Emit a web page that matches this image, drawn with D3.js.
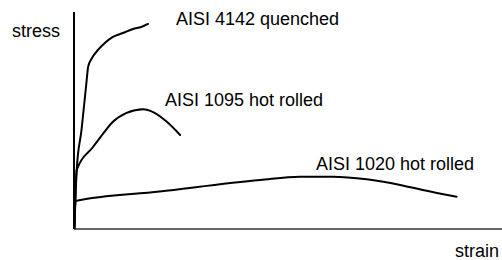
<!DOCTYPE html>
<html>
<head>
<meta charset="utf-8">
<script src="https://cdn.jsdelivr.net/npm/d3@7"></script>
<style>
  body { margin: 0; background: #fff; }
  svg { display: block; }
  .label { font-family: "Liberation Sans", Arial, sans-serif; font-size: 18px; fill: #000; }
  .curve { fill: none; stroke: #000; stroke-width: 2; stroke-linejoin: round; stroke-linecap: round; }
</style>
</head>
<body>
<svg id="chart"></svg>
<script>
// curves (strain and stress in arbitrary 0-100 units)
const strain4142 = [0.1, 0.63, 1.75, 2.97, 3.3, 4.2, 5.6, 7.2, 9.1, 11.4, 13.8, 15.7, 17.3];
const stress4142 = [0.5, 27.2, 45.6, 68.7, 74.7, 78.8, 82.5, 85.7, 88.5, 90.3, 92.2, 93.1, 94.5];

const strain1095 = [0.1, 0.63, 4.5, 6.85, 9.1, 12.3, 16.2, 18.5, 21.7, 24.8];
const stress1095 = [0.5, 27.2, 37.9, 44.1, 49.4, 53.5, 55.2, 53.9, 49.4, 43.3];

const strain1020 = [0.1, 0.35, 20, 43.5, 52.8, 60.5, 68.4, 76.2, 81.5, 89.4];
const stress1020 = [0.5, 12.9, 17.3, 22.6, 24.1, 24.1, 22.9, 20.3, 18.0, 14.9];

const curveNames = ['AISI 4142 quenched', 'AISI 1095 hot rolled', 'AISI 1020 hot rolled'];
const axisNames = ['strain', 'stress'];

const width = 502, height = 260;
const margin = { top: 12, right: 0, bottom: 31, left: 74 };

const svg = d3.select('#chart')
    .attr('width', width)
    .attr('height', height);

// scales
const x = d3.scaleLinear().domain([0, 100]).range([margin.left, width - margin.right]);
const y = d3.scaleLinear().domain([0, 100]).range([height - margin.bottom, margin.top]);

// axes: plain lines, no ticks
svg.append('line')
    .attr('x1', x(0)).attr('x2', x(100))
    .attr('y1', y(0)).attr('y2', y(0))
    .attr('stroke', '#666').attr('stroke-width', 2);

svg.append('line')
    .attr('x1', x(0)).attr('x2', x(0))
    .attr('y1', y(0)).attr('y2', y(100))
    .attr('stroke', '#000').attr('stroke-width', 2);

// monotone so the sharp yield points do not overshoot
const line = d3.line()
    .x(d => x(d[0]))
    .y(d => y(d[1]))
    .curve(d3.curveMonotoneX);

const series = [
    { name: curveNames[0], pts: d3.zip(strain4142, stress4142), lx: 176, ly: 25 },
    { name: curveNames[1], pts: d3.zip(strain1095, stress1095), lx: 165, ly: 106 },
    { name: curveNames[2], pts: d3.zip(strain1020, stress1020), lx: 316, ly: 170 }
];

svg.selectAll('.curve')
    .data(series)
    .join('path')
    .attr('class', 'curve')
    .attr('d', d => line(d.pts));

// curve labels
svg.selectAll('.curve-label')
    .data(series)
    .join('text')
    .attr('class', 'label curve-label')
    .attr('x', d => d.lx)
    .attr('y', d => d.ly)
    .text(d => d.name);

// axis titles
svg.append('text')
    .attr('class', 'label')
    .attr('x', 12)
    .attr('y', 37)
    .text(axisNames[1]);

svg.append('text')
    .attr('class', 'label')
    .attr('x', 455)
    .attr('y', 257)
    .text(axisNames[0]);
</script>
</body>
</html>
